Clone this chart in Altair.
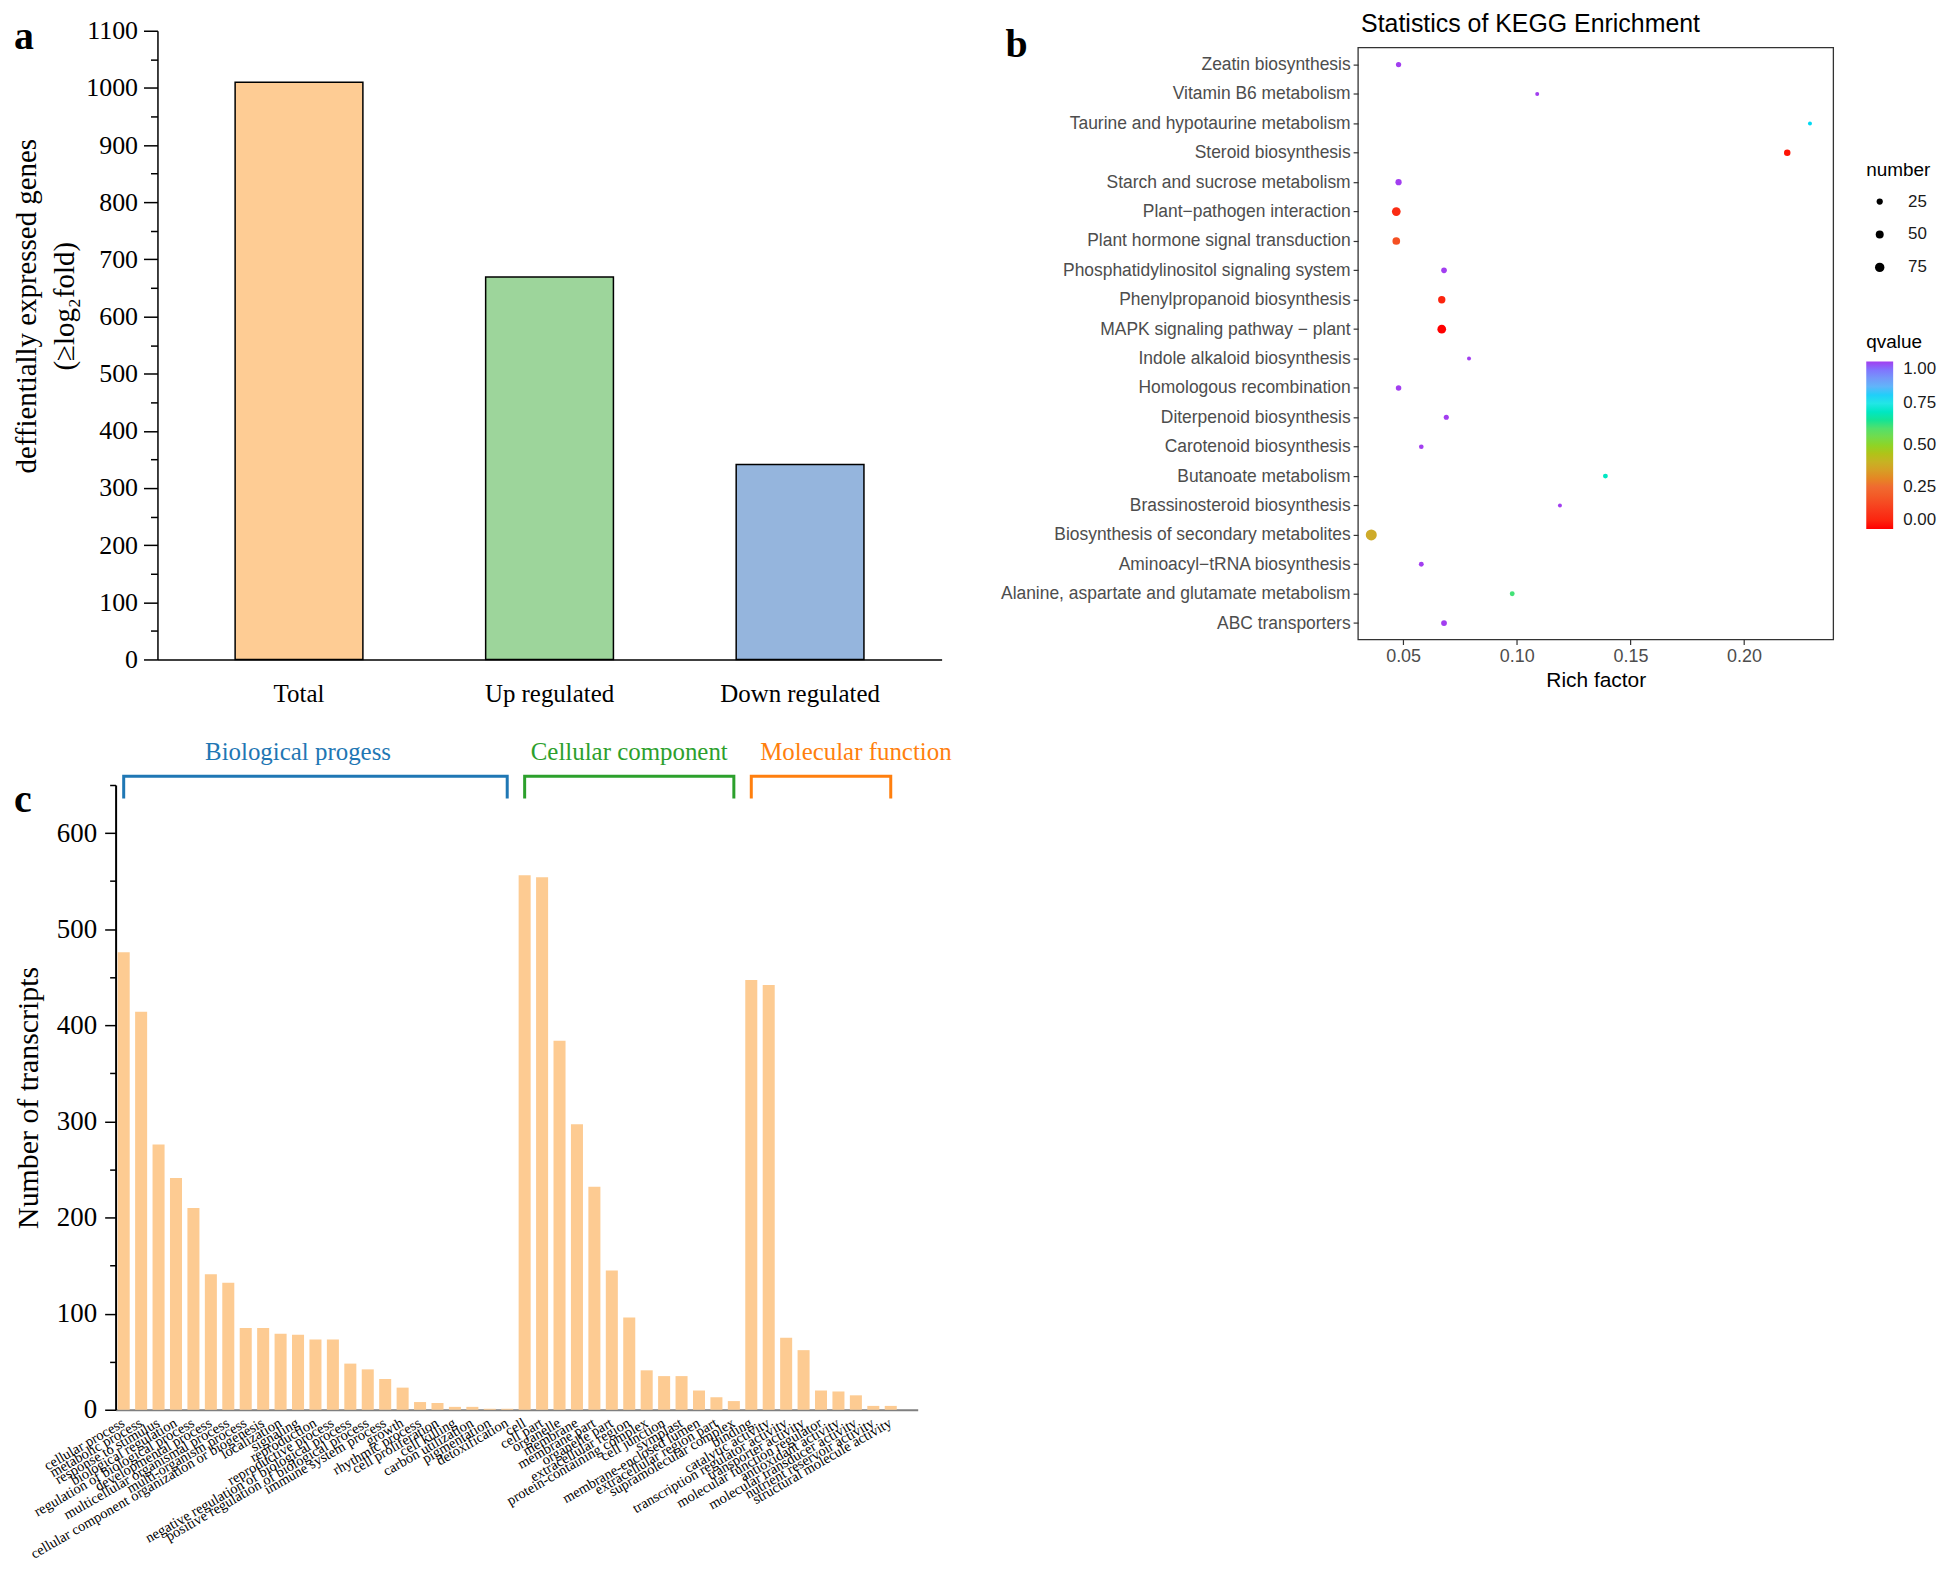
import altair as alt
import pandas as pd

SERIF = "Liberation Serif"
SANS = "Liberation Sans"

# ---------------- data: panel a ----------------
deg_categories = ["Total", "Up regulated", "Down regulated"]
deg_counts = [1010, 669, 341]
deg_colors = ["#FECC94", "#9DD59B", "#95B5DD"]

# ---------------- data: panel b ----------------
kegg_pathways = [
    "Zeatin biosynthesis",
    "Vitamin B6 metabolism",
    "Taurine and hypotaurine metabolism",
    "Steroid biosynthesis",
    "Starch and sucrose metabolism",
    "Plant\u2212pathogen interaction",
    "Plant hormone signal transduction",
    "Phosphatidylinositol signaling system",
    "Phenylpropanoid biosynthesis",
    "MAPK signaling pathway \u2212 plant",
    "Indole alkaloid biosynthesis",
    "Homologous recombination",
    "Diterpenoid biosynthesis",
    "Carotenoid biosynthesis",
    "Butanoate metabolism",
    "Brassinosteroid biosynthesis",
    "Biosynthesis of secondary metabolites",
    "Aminoacyl\u2212tRNA biosynthesis",
    "Alanine, aspartate and glutamate metabolism",
    "ABC transporters",
]
kegg_rich_factor = [0.048, 0.109, 0.229, 0.219, 0.048, 0.047, 0.047, 0.068, 0.067, 0.067,
                    0.079, 0.048, 0.069, 0.058, 0.139, 0.119, 0.036, 0.058, 0.098, 0.068]
kegg_number = [14, 2, 2, 28, 25, 62, 45, 18, 40, 62,
               2, 16, 12, 8, 10, 2, 107, 10, 10, 20]
kegg_qvalue = [1.0, 1.0, 0.78, 0.02, 1.0, 0.07, 0.17, 1.0, 0.05, 0.0,
               1.0, 1.0, 1.0, 1.0, 0.70, 1.0, 0.38, 1.0, 0.62, 1.0]
qvalue_stops = [0, 0.125, 0.25, 0.375, 0.5, 0.625, 0.75, 0.875, 1.0]
qvalue_colors = ["#FF0000", "#F83C1E", "#F06A30", "#CFA92C", "#8ED426",
                 "#3FE27A", "#22E6E6", "#7AA6F2", "#A23EF0"]

# ---------------- data: panel c ----------------
bp_terms = [
    "cellular process", "metabolic process", "response to stimulus", "biological regulation",
    "regulation of biological process", "developmental process", "multicellular organismal process",
    "multi-organism process", "cellular component organization or biogenesis", "localization",
    "signaling", "reproduction", "reproductive process", "negative regulation of biological process",
    "positive regulation of biological process", "immune system process", "growth",
    "rhythmic process", "cell proliferation", "cell killing", "carbon utilization",
    "pigmentation", "detoxification",
]
bp_counts = [476, 414, 276, 241, 210, 141, 132, 85, 85, 79, 78, 73, 73, 48, 42, 32, 23, 8, 7, 3, 3, 1, 1]
cc_terms = [
    "cell", "cell part", "organelle", "membrane", "membrane part", "organelle part",
    "extracellular region", "protein-containing complex", "cell junction", "symplast",
    "membrane-enclosed lumen", "extracellular region part", "supramolecular complex",
]
cc_counts = [556, 554, 384, 297, 232, 145, 96, 41, 35, 35, 20, 13, 9]
mf_terms = [
    "binding", "catalytic activity", "transcription regulator activity", "transporter activity",
    "molecular function regulator", "antioxidant activity", "molecular transducer activity",
    "nutrient reservoir activity", "structural molecule activity",
]
mf_counts = [447, 442, 75, 62, 20, 19, 15, 4, 4]
go_groups = ["Biological progess", "Cellular component", "Molecular function"]
go_group_colors = ["#1F77B4", "#2CA02C", "#FF7F0E"]
go_group_label_terms = ["signaling", "extracellular region", "molecular transducer activity"]
bracket_levels = [636, 659]      # leg bottom, bracket top (transcript units)
group_label_level = 684

# ---------------- helpers ----------------
def minor_major(major, minor):
    return {"condition": {"test": "datum.value % 100 !== 0", "value": minor}, "value": major}

def note(txt, x, y, font=SERIF, size=40, weight="bold"):
    return alt.Chart(pd.DataFrame({"t": [txt]})).mark_text(
        font=font, fontSize=size, fontWeight=weight, align="left", baseline="alphabetic", color="black"
    ).encode(x=alt.value(x), y=alt.value(y), text="t:N")

# ---------------- panel a ----------------
a_df = pd.DataFrame({"category": deg_categories, "count": deg_counts})
a_bars = alt.Chart(a_df).mark_bar(stroke="black", strokeWidth=1.5).encode(
    x=alt.X("category:N", sort=deg_categories,
            scale=alt.Scale(paddingInner=0.49, paddingOuter=0.31),
            axis=alt.Axis(title=None, labelAngle=0, labelFont=SERIF, labelFontSize=25, labelColor="black",
                          ticks=False, domainColor="black", domainWidth=1.5, labelPadding=22)),
    y=alt.Y("count:Q", scale=alt.Scale(domain=[0, 1100], nice=False),
            axis=alt.Axis(title=["deffientially expressed genes", "(\u2265log\u2082fold)"],
                          titleFont=SERIF, titleFontSize=29, titleFontWeight="normal", titleColor="black",
                          titleLineHeight=38, titlePadding=6, titleY=276,
                          values=list(range(0, 1101, 50)),
                          labelExpr="datum.value % 100 === 0 ? datum.label : ''", format="d",
                          labelFont=SERIF, labelFontSize=26, labelColor="black", labelPadding=6,
                          tickSize=minor_major(14, 7), tickColor="black", tickWidth=1.5,
                          domainColor="black", domainWidth=1.5, grid=False)),
    color=alt.Color("category:N", scale=alt.Scale(domain=deg_categories, range=deg_colors), legend=None),
)
panel_a = alt.layer(a_bars, note("a", -144, 18)).properties(width=787, height=631)

# ---------------- panel b ----------------
# plot area starts at the same top as panel a; the framed panel begins 17 px lower
b_df = pd.DataFrame({"pathway": kegg_pathways, "rich": kegg_rich_factor,
                     "number": kegg_number, "qvalue": kegg_qvalue})
b_frame = alt.Chart(pd.DataFrame({"f": [0]})).mark_rect(
    filled=False, stroke="#333333", strokeWidth=1.3
).encode(x=alt.value(0), x2=alt.value(477), y=alt.value(17), y2=alt.value(611))

b_points = alt.Chart(b_df).mark_circle(opacity=1).encode(
    x=alt.X("rich:Q", scale=alt.Scale(domain=[0.0302, 0.2393], nice=False, zero=False),
            axis=alt.Axis(values=[0.05, 0.10, 0.15, 0.20], format=".2f", title="Rich factor", grid=False,
                          domain=False, tickColor="#333333", tickSize=5, tickWidth=1.2,
                          labelColor="#4D4D4D", labelFontSize=18, labelFont=SANS, labelPadding=3,
                          titleFont=SANS, titleFontSize=21, titleFontWeight="normal", titleColor="black",
                          titlePadding=4)),
    y=alt.Y("pathway:N", sort=kegg_pathways, scale=alt.Scale(type="point", padding=0.856, align=0.673),
            axis=alt.Axis(title=None, grid=False, domain=False, tickColor="#333333", tickSize=5, tickWidth=1.2,
                          labelColor="#4D4D4D", labelFontSize=17.5, labelFont=SANS, labelLimit=600,
                          labelPadding=3)),
    size=alt.Size("number:Q", scale=alt.Scale(domain=[0, 110], range=[14, 125]),
                  legend=alt.Legend(title="number", values=[25, 50, 75], orient="none",
                                    legendX=510, legendY=131, symbolFillColor="black",
                                    symbolStrokeWidth=0, symbolType="circle", symbolOffset=5,
                                    titleFont=SANS, titleFontSize=19, titleFontWeight="normal",
                                    titleColor="black", titlePadding=13, labelFont=SANS,
                                    labelFontSize=17, labelColor="#1A1A1A", labelOffset=20,
                                    rowPadding=15)),
    color=alt.Color("qvalue:Q", scale=alt.Scale(domain=qvalue_stops, range=qvalue_colors),
                    legend=alt.Legend(title="qvalue", values=[0, 0.25, 0.5, 0.75, 1.0], format=".2f",
                                      orient="none", legendX=510, legendY=303,
                                      gradientLength=168, gradientThickness=27, gradientStrokeWidth=0,
                                      titleFont=SANS, titleFontSize=19, titleFontWeight="normal",
                                      titleColor="black", titlePadding=10, labelFont=SANS,
                                      labelFontSize=17, labelColor="#1A1A1A", labelOffset=10)),
)
panel_b = alt.layer(
    b_frame, b_points,
    note("b", -354, 26),
    note("Statistics of KEGG Enrichment", 3, 1, font=SANS, size=25, weight="normal"),
).properties(width=477, height=611)

# ---------------- panel c ----------------
go_terms = bp_terms + cc_terms + mf_terms
go_counts = bp_counts + cc_counts + mf_counts
go_term_lists = [bp_terms, cc_terms, mf_terms]

C_SHIFT = 42   # panel c starts further left than panel a's plot
c_x_scale = alt.Scale(paddingInner=0.31, paddingOuter=0.66, align=0.09, range=[-C_SHIFT, 763])
c_y_scale = alt.Scale(domain=[0, 650], nice=False)

c_df = pd.DataFrame({"term": go_terms, "count": go_counts})
c_bars = alt.Chart(c_df).mark_bar(color="#FDCB92").encode(
    x=alt.X("term:N", sort=go_terms, scale=c_x_scale,
            axis=alt.Axis(title=None, labelAngle=-30, labelAlign="right", labelBaseline="middle",
                          labelFont=SERIF, labelFontSize=14.5, labelColor="black", labelLimit=600,
                          ticks=False, domainColor="#7F7F7F", domainWidth=2, labelPadding=12)),
    y=alt.Y("count:Q", scale=c_y_scale,
            axis=alt.Axis(title="Number of transcripts", titleFont=SERIF, titleFontSize=30,
                          titleFontWeight="normal", titleColor="black", titlePadding=13,
                          values=list(range(0, 651, 50)), offset=C_SHIFT,
                          labelExpr="datum.value % 100 === 0 ? datum.label : ''", format="d",
                          labelFont=SERIF, labelFontSize=27, labelColor="black", labelPadding=8,
                          tickSize=minor_major(11, 6), tickColor="black", tickWidth=1.5,
                          domainColor="black", domainWidth=2, grid=False)),
)

bracket_rows = []
for g, terms in zip(go_groups, go_term_lists):
    first, last = terms[0], terms[-1]
    pts = [(first, bracket_levels[0]), (first, bracket_levels[1]),
           (last, bracket_levels[1]), (last, bracket_levels[0])]
    for i, (t, lv) in enumerate(pts):
        bracket_rows.append({"group": g, "term": t, "count": lv, "step": i})
bracket_df = pd.DataFrame(bracket_rows)
group_color = alt.Color("group:N", scale=alt.Scale(domain=go_groups, range=go_group_colors), legend=None)

c_brackets = alt.Chart(bracket_df).mark_line(strokeWidth=3, strokeJoin="miter", strokeCap="butt").encode(
    x=alt.X("term:N", sort=go_terms, scale=c_x_scale),
    y=alt.Y("count:Q", scale=c_y_scale),
    order="step:O",
    detail="group:N",
    color=group_color,
)

label_df = pd.DataFrame({"group": go_groups, "term": go_group_label_terms,
                         "count": [group_label_level] * len(go_groups)})
c_labels = alt.Chart(label_df).mark_text(font=SERIF, fontSize=25, align="center", baseline="middle").encode(
    x=alt.X("term:N", sort=go_terms, scale=c_x_scale),
    y=alt.Y("count:Q", scale=c_y_scale),
    text="group:N",
    color=group_color,
)

panel_c = alt.layer(c_bars, c_brackets, c_labels, note("c", -144, 27)).properties(width=763, height=627)

row1 = alt.hconcat(panel_a, panel_b, spacing=57).resolve_scale(
    color="independent", size="independent").resolve_legend(color="independent", size="independent")
chart = alt.vconcat(row1, panel_c, spacing=32).resolve_scale(
    color="independent", size="independent").resolve_legend(color="independent", size="independent").properties(
    padding={"left": 4, "top": 0, "right": 0, "bottom": 0}
).configure_view(stroke="transparent")

chart.save("out.html", embed_options={"renderer": "svg", "actions": False})
